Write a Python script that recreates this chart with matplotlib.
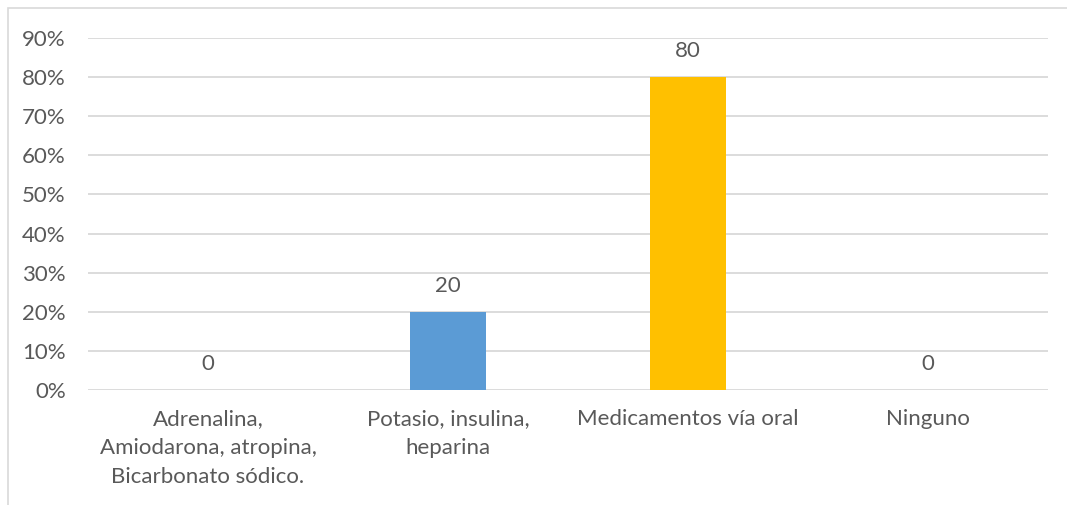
import matplotlib.pyplot as plt
from matplotlib.patches import Rectangle
from matplotlib.ticker import FuncFormatter

categories = ["Adrenalina,\nAmiodarona, atropina,\nBicarbonato sódico.",
              "Potasio, insulina,\nheparina",
              "Medicamentos vía oral",
              "Ninguno"]
values = [0, 20, 80, 0]
colors = ["#5b9bd5", "#5b9bd5", "#ffc000", "#5b9bd5"]
yticks = [0, 10, 20, 30, 40, 50, 60, 70, 80, 90]

text_color = "#595959"
plt.rcParams['font.family'] = ['Lato', 'DejaVu Sans']

fig = plt.figure(figsize=(10.67, 5.05), dpi=100)
ax = fig.add_axes([88 / 1067, 1 - 390 / 505, 960 / 1067, 352 / 505])

x = range(len(categories))
ax.bar(x, values, width=0.317, color=colors, zorder=3)

for i, v in enumerate(values):
    ax.annotate(str(v), (i, v), xytext=(0, 16), textcoords='offset pixels',
                ha='center', va='bottom', fontsize=16, color=text_color)

ax.set_xlim(-0.5, 3.5)
ax.set_ylim(0, 90)
ax.set_yticks(yticks)
ax.yaxis.set_major_formatter(FuncFormatter(lambda v, p: "%d%%" % v))
ax.set_xticks(list(x))
ax.set_xticklabels(categories, linespacing=1.55)
ax.tick_params(axis='both', length=0, labelsize=16, labelcolor=text_color)
ax.tick_params(axis='x', pad=14)
ax.tick_params(axis='y', pad=16)
ax.grid(axis='y', color='#d9d9d9', linewidth=1.3, zorder=0)
for s in ax.spines.values():
    s.set_visible(False)

# outer chart border (only top and left are inside the picture)
fig.patches.append(Rectangle((8 / 1067, -0.1), 1.2, 1 - 8 / 505 + 0.1,
                             transform=fig.transFigure, fill=False,
                             edgecolor='#d9d9d9', linewidth=1.2))

fig.savefig("out.png", dpi=100)
